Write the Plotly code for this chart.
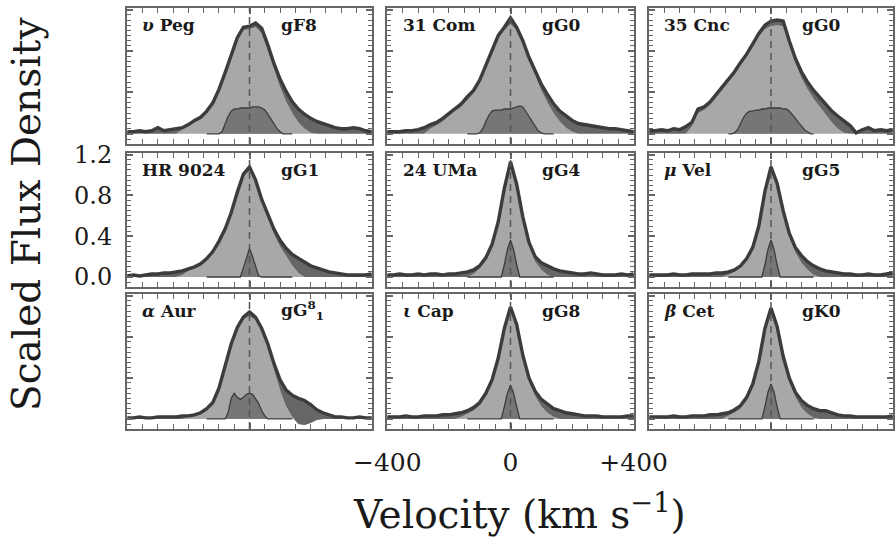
import plotly.graph_objects as go

# ---------------- data ----------------
VEL = [-400, -380, -360, -340, -320, -300, -280, -260, -240, -220, -200,
       -180, -160, -140, -120, -100, -80, -60, -40, -20, 0,
       20, 40, 60, 80, 100, 120, 140, 160, 180, 200,
       220, 240, 260, 280, 300, 320, 340, 360, 380, 400]
VEL_N = [-140, -130, -120, -110, -100, -90, -80, -70, -60, -50, -40, -30, -20, -10, 0,
         10, 20, 30, 40, 50, 60, 70, 80, 90, 100, 110, 120, 130, 140]

STARS = ["<i>υ</i> Peg", "31 Com", "35 Cnc", "HR 9024", "24 UMa", "<i>μ</i> Vel",
         "<i>α</i> Aur", "<i>ι</i> Cap", "<i>β</i> Cet"]
SPTYPES = ["gF8", "gG0", "gG0", "gG1", "gG4", "gG5", "gG<sup>8</sup><sub>1</sub>", "gG8", "gK0"]

X_TICKS = [-400, 0, 400]
X_TICKTEXT = ["\u2212400", "0", "+400"]
Y_TICKS = [0.0, 0.4, 0.8, 1.2]
Y_TICKTEXT = ["0.0", "0.4", "0.8", "1.2"]

# total (observed) profiles
TOT_UPS_PEG = [0.02, 0.02, 0.03, 0.02, 0.03, 0.06, 0.03, 0.04, 0.05, 0.06, 0.09,
               0.13, 0.16, 0.22, 0.30, 0.43, 0.59, 0.76, 0.93, 1.03, 1.04,
               1.07, 1.02, 0.86, 0.68, 0.53, 0.41, 0.31, 0.24, 0.19, 0.15,
               0.12, 0.10, 0.08, 0.06, 0.05, 0.05, 0.06, 0.05, 0.03, 0.02]
TOT_31_COM = [0.02, 0.02, 0.02, 0.03, 0.03, 0.04, 0.06, 0.09, 0.11, 0.15, 0.20,
              0.25, 0.29, 0.36, 0.42, 0.52, 0.66, 0.82, 0.95, 1.03, 1.12,
              1.03, 0.90, 0.74, 0.61, 0.48, 0.38, 0.29, 0.22, 0.17, 0.13,
              0.10, 0.09, 0.08, 0.07, 0.06, 0.05, 0.05, 0.04, 0.03, 0.02]
TOT_35_CNC = [0.03, 0.03, 0.04, 0.03, 0.05, 0.04, 0.07, 0.11, 0.24, 0.26, 0.31,
              0.38, 0.45, 0.52, 0.60, 0.69, 0.77, 0.87, 0.97, 1.05, 1.09,
              1.10, 1.09, 0.90, 0.73, 0.60, 0.50, 0.42, 0.35, 0.28, 0.22,
              0.17, 0.12, 0.08, 0.01, 0.04, 0.06, 0.03, 0.04, 0.03, 0.04]
TOT_HR_9024 = [0.01, 0.02, 0.01, 0.02, 0.03, 0.03, 0.04, 0.04, 0.05, 0.06, 0.08,
               0.10, 0.13, 0.18, 0.25, 0.35, 0.47, 0.63, 0.83, 1.01, 1.08,
               0.95, 0.76, 0.61, 0.47, 0.36, 0.28, 0.22, 0.18, 0.14, 0.11,
               0.09, 0.07, 0.05, 0.04, 0.03, 0.02, 0.02, 0.02, 0.02, 0.03]
TOT_24_UMA = [0.02, 0.02, 0.03, 0.02, 0.02, 0.03, 0.02, 0.03, 0.03, 0.02, 0.03,
              0.03, 0.04, 0.05, 0.07, 0.11, 0.19, 0.32, 0.54, 0.87, 1.13,
              0.91, 0.59, 0.34, 0.20, 0.14, 0.11, 0.08, 0.06, 0.05, 0.04,
              0.03, 0.03, 0.04, 0.03, 0.02, 0.02, 0.02, 0.03, 0.02, 0.03]
TOT_MU_VEL = [0.02, 0.02, 0.02, 0.02, 0.03, 0.02, 0.02, 0.03, 0.03, 0.03, 0.03,
              0.04, 0.04, 0.05, 0.07, 0.11, 0.18, 0.29, 0.50, 0.84, 1.08,
              0.92, 0.65, 0.43, 0.29, 0.21, 0.15, 0.11, 0.08, 0.06, 0.05,
              0.04, 0.03, 0.03, 0.02, 0.02, 0.03, 0.02, 0.02, 0.03, 0.04]
TOT_ALF_AUR = [0.01, 0.01, 0.02, 0.01, 0.01, 0.02, 0.02, 0.02, 0.02, 0.03, 0.03,
               0.04, 0.06, 0.10, 0.16, 0.30, 0.51, 0.73, 0.89, 0.99, 1.04,
               0.99, 0.88, 0.73, 0.54, 0.38, 0.28, 0.23, 0.20, 0.18, 0.14,
               0.09, 0.06, 0.04, 0.02, 0.02, 0.01, 0.01, 0.02, 0.01, 0.01]
TOT_IOT_CAP = [0.02, 0.02, 0.02, 0.03, 0.02, 0.02, 0.03, 0.03, 0.03, 0.04, 0.04,
               0.05, 0.06, 0.08, 0.11, 0.16, 0.25, 0.38, 0.59, 0.88, 1.09,
               0.92, 0.62, 0.40, 0.27, 0.19, 0.14, 0.10, 0.08, 0.06, 0.05,
               0.04, 0.03, 0.03, 0.03, 0.02, 0.02, 0.02, 0.02, 0.03, 0.03]
TOT_BET_CET = [0.02, 0.02, 0.02, 0.02, 0.03, 0.02, 0.02, 0.03, 0.03, 0.03, 0.04,
               0.04, 0.05, 0.06, 0.09, 0.13, 0.21, 0.34, 0.56, 0.88, 1.08,
               0.90, 0.61, 0.40, 0.26, 0.18, 0.13, 0.10, 0.08, 0.08, 0.06,
               0.04, 0.03, 0.03, 0.02, 0.02, 0.02, 0.02, 0.02, 0.02, 0.03]

# fitted broad profiles (light grey)
FIT_UPS_PEG = [0, 0, 0, 0, 0, 0, 0, 0, 0, 0.04, 0.07,
               0.11, 0.14, 0.20, 0.28, 0.41, 0.57, 0.74, 0.91, 1.00, 1.01,
               1.03, 0.97, 0.80, 0.62, 0.45, 0.31, 0.20, 0.11, 0.05, 0.01,
               0, 0, 0, 0, 0, 0, 0, 0, 0, 0]
FIT_31_COM = [0, 0, 0, 0, 0, 0, 0, 0.05, 0.08, 0.12, 0.17,
              0.22, 0.26, 0.33, 0.39, 0.49, 0.63, 0.79, 0.92, 1.00, 1.06,
              1.00, 0.87, 0.71, 0.56, 0.42, 0.30, 0.20, 0.12, 0.06, 0.02,
              0, 0, 0, 0, 0, 0, 0, 0, 0, 0]
FIT_35_CNC = [0, 0, 0, 0, 0, 0, 0, 0.07, 0.20, 0.23, 0.28,
              0.35, 0.42, 0.49, 0.57, 0.66, 0.74, 0.84, 0.94, 1.01, 1.04,
              1.05, 1.04, 0.86, 0.68, 0.54, 0.43, 0.34, 0.26, 0.18, 0.11,
              0.05, 0.01, 0, 0, 0, 0, 0, 0, 0, 0]
FIT_HR_9024 = [0, 0, 0, 0, 0, 0, 0, 0, 0, 0.02, 0.06,
               0.08, 0.11, 0.16, 0.23, 0.33, 0.45, 0.61, 0.81, 0.98, 1.04,
               0.92, 0.73, 0.57, 0.42, 0.30, 0.20, 0.11, 0.04, 0, 0,
               0, 0, 0, 0, 0, 0, 0, 0, 0, 0]
FIT_24_UMA = [0, 0, 0, 0, 0, 0, 0, 0, 0, 0, 0,
              0, 0, 0, 0.03, 0.08, 0.16, 0.29, 0.51, 0.84, 1.10,
              0.88, 0.56, 0.30, 0.15, 0.07, 0.02, 0, 0, 0, 0,
              0, 0, 0, 0, 0, 0, 0, 0, 0, 0]
FIT_MU_VEL = [0, 0, 0, 0, 0, 0, 0, 0, 0, 0, 0,
              0, 0, 0.02, 0.05, 0.09, 0.16, 0.27, 0.48, 0.81, 1.05,
              0.89, 0.62, 0.39, 0.24, 0.14, 0.07, 0.02, 0, 0, 0,
              0, 0, 0, 0, 0, 0, 0, 0, 0, 0]
FIT_ALF_AUR = [0, 0, 0, 0, 0, 0, 0, 0, 0, 0, 0.02,
               0.03, 0.05, 0.08, 0.14, 0.28, 0.49, 0.71, 0.87, 0.97, 1.00,
               0.96, 0.85, 0.69, 0.48, 0.28, 0.12, 0.02, -0.05, -0.06, -0.04,
               -0.01, 0, 0, 0, 0, 0, 0, 0, 0, 0]
FIT_IOT_CAP = [0, 0, 0, 0, 0, 0, 0, 0, 0, 0, 0,
               0, 0.02, 0.05, 0.08, 0.13, 0.22, 0.35, 0.56, 0.85, 1.06,
               0.89, 0.59, 0.36, 0.22, 0.12, 0.06, 0.02, 0, 0, 0,
               0, 0, 0, 0, 0, 0, 0, 0, 0, 0]
FIT_BET_CET = [0, 0, 0, 0, 0, 0, 0, 0, 0, 0, 0,
               0, 0, 0.03, 0.06, 0.10, 0.18, 0.31, 0.53, 0.85, 1.05,
               0.87, 0.58, 0.36, 0.21, 0.11, 0.05, 0.01, 0, 0, 0,
               0, 0, 0, 0, 0, 0, 0, 0, 0, 0]

# narrow components (dark grey), on VEL_N
NAR_UPS_PEG = [0, 0, 0, 0, 0.0, 0.02, 0.09, 0.17, 0.22, 0.24, 0.24, 0.25, 0.25, 0.25, 0.25,
               0.26, 0.26, 0.26, 0.25, 0.23, 0.19, 0.14, 0.09, 0.05, 0.02, 0.0, 0, 0, 0]
NAR_31_COM = [0, 0, 0, 0, 0.01, 0.05, 0.12, 0.18, 0.22, 0.23, 0.23, 0.23, 0.24, 0.24, 0.24,
              0.25, 0.26, 0.27, 0.26, 0.22, 0.17, 0.12, 0.07, 0.03, 0.01, 0, 0, 0, 0]
NAR_35_CNC = [0, 0, 0.01, 0.04, 0.10, 0.16, 0.20, 0.22, 0.22, 0.23, 0.23, 0.24, 0.24, 0.25, 0.25,
              0.25, 0.25, 0.25, 0.24, 0.24, 0.22, 0.19, 0.15, 0.11, 0.07, 0.04, 0.02, 0.0, 0]
NAR_HR_9024 = [0, 0, 0, 0, 0, 0, 0, 0, 0, 0, 0, 0, 0.09, 0.19, 0.28,
               0.20, 0.10, 0.01, 0, 0, 0, 0, 0, 0, 0, 0, 0, 0, 0]
NAR_24_UMA = [0, 0, 0, 0, 0, 0, 0, 0, 0, 0, 0, 0, 0.12, 0.27, 0.36,
              0.27, 0.12, 0, 0, 0, 0, 0, 0, 0, 0, 0, 0, 0, 0]
NAR_MU_VEL = [0, 0, 0, 0, 0, 0, 0, 0, 0, 0, 0, 0, 0.12, 0.27, 0.36,
              0.27, 0.12, 0, 0, 0, 0, 0, 0, 0, 0, 0, 0, 0, 0]
NAR_ALF_AUR = [0, 0, 0, 0, 0, 0, 0.0, 0.06, 0.20, 0.25, 0.21, 0.19, 0.21, 0.24, 0.25,
               0.24, 0.20, 0.15, 0.08, 0.03, 0.0, 0, 0, 0, 0, 0, 0, 0, 0]
NAR_IOT_CAP = [0, 0, 0, 0, 0, 0, 0, 0, 0, 0, 0, 0, 0.12, 0.25, 0.33,
               0.25, 0.12, 0, 0, 0, 0, 0, 0, 0, 0, 0, 0, 0, 0]
NAR_BET_CET = [0, 0, 0, 0, 0, 0, 0, 0, 0, 0, 0, 0, 0.12, 0.26, 0.34,
               0.26, 0.12, 0, 0, 0, 0, 0, 0, 0, 0, 0, 0, 0, 0]

TOT = [TOT_UPS_PEG, TOT_31_COM, TOT_35_CNC, TOT_HR_9024, TOT_24_UMA, TOT_MU_VEL,
       TOT_ALF_AUR, TOT_IOT_CAP, TOT_BET_CET]
FIT = [FIT_UPS_PEG, FIT_31_COM, FIT_35_CNC, FIT_HR_9024, FIT_24_UMA, FIT_MU_VEL,
       FIT_ALF_AUR, FIT_IOT_CAP, FIT_BET_CET]
NAR = [NAR_UPS_PEG, NAR_31_COM, NAR_35_CNC, NAR_HR_9024, NAR_24_UMA, NAR_MU_VEL,
       NAR_ALF_AUR, NAR_IOT_CAP, NAR_BET_CET]

# ---------------- styling ----------------
W, H = 895, 539
FONT = "DejaVu Serif"
LIGHT = "#a8a8a8"
BAND = "#666666"
NARROW = "#767676"
DARK = "#3c3c3c"
BORDER = "#666666"
TXT = "#1a1a1a"

COLS = [(127, 372), (387, 634), (649, 893)]
ROWS = [(8, 144), (153, 287), (294, 429)]
YRANGE = [-0.098, 1.216]

fig = go.Figure()
layout = dict(
    width=W, height=H, autosize=False,
    margin=dict(l=0, r=0, t=0, b=0, pad=0, autoexpand=False),
    paper_bgcolor="white", plot_bgcolor="white", showlegend=False,
    font=dict(family=FONT, color=TXT),
)
shapes = []
annotations = []

for k in range(9):
    r, c = divmod(k, 3)
    n = k + 1
    xa = "x" if n == 1 else f"x{n}"
    ya = "y" if n == 1 else f"y{n}"
    x0, x1 = COLS[c]
    y0, y1 = ROWS[r]
    fig.add_trace(go.Scatter(x=VEL, y=FIT[k], xaxis=xa, yaxis=ya, mode="lines",
                             line=dict(width=0, color=LIGHT), fill="tozeroy",
                             fillcolor=LIGHT, hoverinfo="skip"))
    fig.add_trace(go.Scatter(x=VEL, y=TOT[k], xaxis=xa, yaxis=ya, mode="lines",
                             line=dict(width=3.4, color=DARK), fill="tonexty",
                             fillcolor=BAND, hoverinfo="skip"))
    fig.add_trace(go.Scatter(x=VEL_N, y=NAR[k], xaxis=xa, yaxis=ya, mode="lines",
                             line=dict(width=1.3, color=DARK), fill="tozeroy",
                             fillcolor=NARROW, hoverinfo="skip"))

    xkey = "xaxis" if n == 1 else f"xaxis{n}"
    ykey = "yaxis" if n == 1 else f"yaxis{n}"
    layout[xkey] = dict(
        domain=[x0 / W, x1 / W], anchor=ya, range=[-401, 401], automargin=False,
        showline=True, linecolor=BORDER, linewidth=2, mirror="ticks",
        ticks="inside", ticklen=6, tickwidth=1.5, tickcolor=BORDER,
        tickmode="array", tickvals=X_TICKS, ticktext=X_TICKTEXT,
        showticklabels=(k == 7), tickfont=dict(family=FONT, size=25, color=TXT),
        ticklabelstandoff=10,
        minor=dict(dtick=50, ticklen=5, tickwidth=1.3, tickcolor=BORDER, ticks="inside"),
        showgrid=False, zeroline=False, fixedrange=True,
    )
    layout[ykey] = dict(
        domain=[1 - y1 / H, 1 - y0 / H], anchor=xa, range=YRANGE, automargin=False,
        showline=True, linecolor=BORDER, linewidth=2, mirror="ticks",
        ticks="inside", ticklen=6, tickwidth=1.5, tickcolor=BORDER,
        tickmode="array", tickvals=Y_TICKS, ticktext=Y_TICKTEXT,
        showticklabels=(k == 3), tickfont=dict(family=FONT, size=24, color=TXT),
        ticklabelstandoff=8,
        minor=dict(dtick=0.05, ticklen=4, tickwidth=1.2, tickcolor=BORDER, ticks="inside"),
        showgrid=False, zeroline=False, fixedrange=True,
    )
    shapes.append(dict(type="line", xref=xa, yref=f"{ya} domain", x0=0, x1=0, y0=0, y1=1,
                       line=dict(color="#555555", width=1.5, dash="7px,5px"), layer="above"))
    annotations.append(dict(xref=f"{xa} domain", yref=f"{ya} domain", x=0.055, y=0.875,
                            xanchor="left", yanchor="middle", showarrow=False,
                            text=f"<b>{STARS[k]}</b>",
                            font=dict(family=FONT, size=17, color=TXT)))
    annotations.append(dict(xref=f"{xa} domain", yref=f"{ya} domain", x=0.62, y=0.875,
                            xanchor="left", yanchor="middle", showarrow=False,
                            text=f"<b>{SPTYPES[k]}</b>",
                            font=dict(family=FONT, size=17, color=TXT)))

annotations.append(dict(xref="paper", yref="paper", x=519 / W, y=1 - 512 / H,
                        xanchor="center", yanchor="middle", showarrow=False,
                        text="Velocity (km s<sup>\u22121</sup>)",
                        font=dict(family=FONT, size=39, color=TXT)))
annotations.append(dict(xref="paper", yref="paper", x=27 / W, y=1 - 215 / H,
                        xanchor="center", yanchor="middle", showarrow=False,
                        textangle=-90, text="Scaled Flux Density",
                        font=dict(family=FONT, size=39, color=TXT)))

layout["shapes"] = shapes
layout["annotations"] = annotations
fig.update_layout(**layout)
fig.write_html("out.html")
